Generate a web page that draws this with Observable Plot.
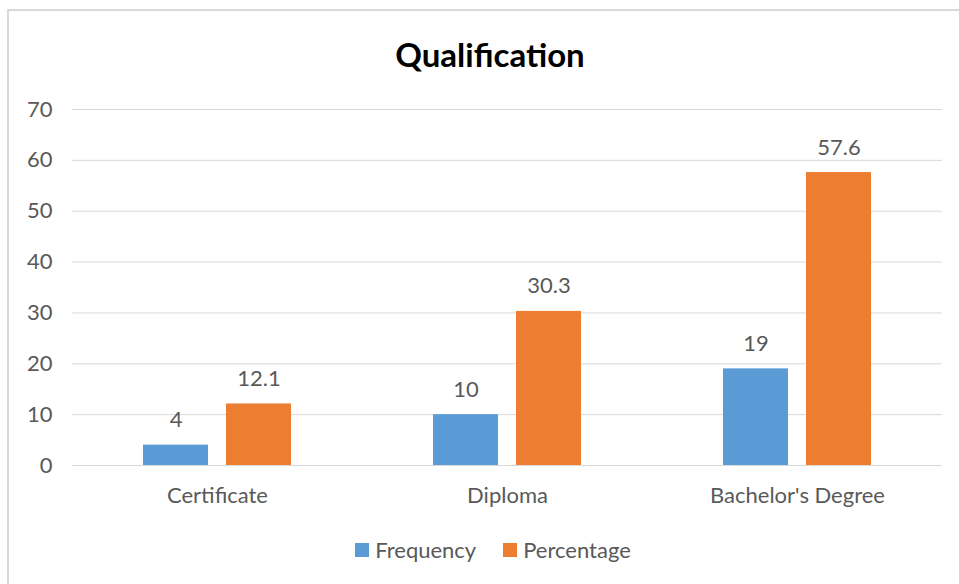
<!DOCTYPE html>
<html>
<head>
<meta charset="utf-8">
<script src="https://cdn.jsdelivr.net/npm/d3@7"></script>
<script src="https://cdn.jsdelivr.net/npm/@observablehq/plot@0.6"></script>
<style>
  html, body { margin: 0; padding: 0; background: #fff; overflow: hidden; }
  #wrap { position: relative; width: 959px; height: 584px; overflow: hidden; font-family: Lato, "Open Sans", sans-serif; }
  #frame { position: absolute; left: 7px; top: 9px; width: 1000px; height: 700px; border: 2px solid #d9d9d9; box-sizing: border-box; }
  #title { position: absolute; left: 0; width: 980px; top: 34px; text-align: center; font-size: 33px; font-weight: 700; color: #000; line-height: 40px; }
  #chart { position: absolute; left: 0; top: 90px; }
  #legend { position: absolute; top: 537px; left: 0; width: 986px; display: flex; justify-content: center; gap: 27px; font-size: 22px; color: #595959; line-height: 26px; }
  .item { display: flex; align-items: center; gap: 6px; }
  .sw { width: 14px; height: 14px; display: inline-block; }
</style>
</head>
<body>
<div id="wrap">
  <div id="frame"></div>
  <div id="title">Qualification</div>
  <div id="chart"></div>
  <div id="legend"></div>
</div>
<script>
const categories = ["Certificate", "Diploma", "Bachelor's Degree"];
const series = ["Frequency", "Percentage"];
const frequency = [4, 10, 19];
const percentage = [12.1, 30.3, 57.6];
const yTicks = [0, 10, 20, 30, 40, 50, 60, 70];
const colors = ["#5B9BD5", "#ED7D31"];

const rows = [];
categories.forEach((c, i) => {
  rows.push({category: c, series: series[0], value: frequency[i]});
  rows.push({category: c, series: series[1], value: percentage[i]});
});

const chart = Plot.plot({
  width: 959,
  height: 420,
  marginLeft: 72,
  marginRight: 17,
  marginTop: 19,
  marginBottom: 45,
  style: {fontFamily: "Lato, 'Open Sans', sans-serif", fontSize: "22px", color: "#595959", background: "transparent"},
  fx: {domain: categories, padding: 0, axis: "bottom", label: null, tickSize: 0, tickPadding: 22},
  x: {domain: series, axis: null, paddingInner: 0.2156, paddingOuter: 0.844},
  y: {domain: [0, 70], ticks: yTicks, label: null, tickSize: 0, tickPadding: 20},
  color: {domain: series, range: colors},
  marks: [
    Plot.gridY(yTicks, {stroke: "#d9d9d9", strokeOpacity: 1, strokeWidth: 1}),
    Plot.barY(rows, {fx: "category", x: "series", y: "value", fill: "series"}),
    Plot.text(rows, {fx: "category", x: "series", y: "value", text: d => String(d.value), lineAnchor: "bottom", dy: -18, fill: "#595959", fontSize: 22})
  ]
});
document.getElementById("chart").appendChild(chart);

const legend = document.getElementById("legend");
series.forEach((s, i) => {
  const item = document.createElement("div");
  item.className = "item";
  const sw = document.createElement("span");
  sw.className = "sw";
  sw.style.background = colors[i];
  const t = document.createElement("span");
  t.textContent = s;
  item.appendChild(sw);
  item.appendChild(t);
  legend.appendChild(item);
});
</script>
</body>
</html>
